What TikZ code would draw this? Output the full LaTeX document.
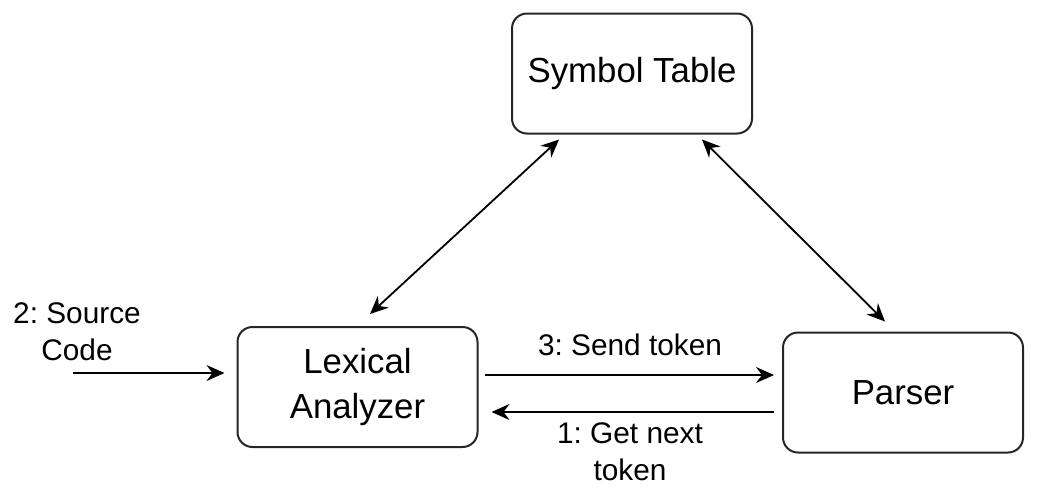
\documentclass[tikz,border=0pt]{standalone}
\usepackage{fontspec}
\setmainfont{Liberation Sans}
\usetikzlibrary{arrows.meta,calc}
\frenchspacing
\tikzset{
	box/.style={draw=black!85,line width=1pt,rounded corners=7.5pt,minimum width=120pt,minimum height=60pt,align=center,font=\fontsize{17.4}{22.5}\selectfont},
	lbl/.style={align=center,font=\fontsize{14.9}{18.5}\selectfont},
	conn/.style={line width=0.9pt,-{Stealth[length=9pt,width=8pt,inset=3pt]}},
	dconn/.style={line width=0.9pt,{Stealth[length=9pt,width=8pt,inset=3pt]}-{Stealth[length=9pt,width=8pt,inset=3pt]}}
}
\begin{document}
\begin{tikzpicture}[x=0.5pt,y=-0.5pt]
		\useasboundingbox (0,0) rectangle (1037,489);
		\node[box] (sym) at (632,73.5) {Symbol Table};
		\node[box] (lex) at (357.5,387) {Lexical\\Analyzer};
		\node[box] (par) at (903,392.5) {Parser};
		\coordinate (src) at (73,373);
		\draw[conn] (src) -- ($(lex.west)+(-12,-14)$);
		\draw[dconn] ($(lex.north)+(12.5,-12)$) -- ($(sym.south)+(-73,5)$);
		\draw[dconn] ($(sym.south)+(70,5)$) -- ($(par.north)+(-18,-10)$);
		\draw[conn] ($(lex.east)+(6,-12)$) -- ($(par.west)+(-8,-17.5)$);
		\draw[conn] ($(par.west)+(-8,19.5)$) -- ($(lex.east)+(13,25)$);
		\node[lbl] (srclbl) at (77,332) {2: Source\\Code};
		\node[lbl] (send) at (630,345) {3: Send token};
		\node[lbl] (get) at (630,452) {1: Get next\\token};
	\end{tikzpicture}
\end{document}
